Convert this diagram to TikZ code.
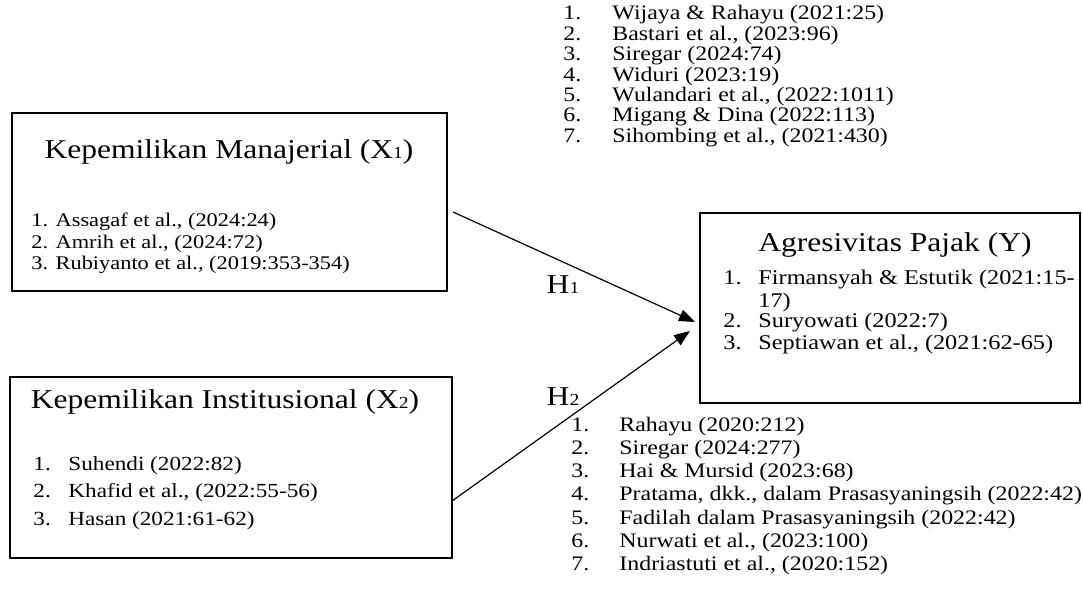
\documentclass[tikz,border=0pt]{standalone}
\usepackage{fontspec}
\setmainfont[FakeStretch=1.16]{Liberation Serif}
\usetikzlibrary{arrows.meta}

\newcommand{\indeks}[1]{\scalebox{0.62}{#1}}

\tikzset{
  kotak/.style={draw,line width=1pt,inner sep=0pt},
  judul/.style={inner sep=0pt,font=\fontsize{13.6}{16}\selectfont},
  butir/.style={anchor=west,inner sep=0pt,text height=0.72em,text depth=0.22em},
  panah/.style={line width=0.6pt,-{Triangle[length=8pt,width=6pt]}},
}

\begin{document}
\begin{tikzpicture}[x=0.5pt,y=-0.5pt]
  \useasboundingbox (0,0) rectangle (1083,615);

  % kotak variabel
  \node[kotak,minimum width=217.5pt,minimum height=89pt] (x1) at (229.5,202) {};
  \node[kotak,minimum width=221pt,minimum height=90.5pt] (x2) at (231,467.5) {};
  \node[kotak,minimum width=190pt,minimum height=95pt] (y) at (890,308) {};

  \node[judul] (jx1) at (229,152) {Kepemilikan Manajerial (X\indeks{1})};
  \node[judul] (jx2) at (225,402) {Kepemilikan Institusional (X\indeks{2})};
  \node[judul] (jy) at (895,245) {Agresivitas Pajak (Y)};

  % rujukan X1
  \begin{scope}[every node/.style={butir,font=\fontsize{9.65}{11}\selectfont}]
    \foreach \n/\teks in {1/{Assagaf et al., (2024:24)},
                          2/{Amrih et al., (2024:72)},
                          3/{Rubiyanto et al., (2019:353-354)}}
      {\node (rx1\n) at (31,{222+21.5*(\n-1)}) {\n. \teks};}
  \end{scope}

  % rujukan X2
  \begin{scope}[every node/.style={butir,font=\fontsize{10}{12}\selectfont}]
    \foreach \n/\teks in {1/{Suhendi (2022:82)},
                          2/{Khafid et al., (2022:55-56)},
                          3/{Hasan (2021:61-62)}}
      {\node (nx2\n) at (33,{465+27.5*(\n-1)}) {\n.};
       \node (rx2\n) at (68,{465+27.5*(\n-1)}) {\teks};}
  \end{scope}

  % rujukan Y
  \begin{scope}[every node/.style={butir,font=\fontsize{10.47}{12}\selectfont}]
    \node (ny1) at (723,280) {1.};
    \node (ry1) at (758,280) {Firmansyah \& Estutik (2021:15-};
    \node (ry1b) at (758,302) {17)};
    \node (ny2) at (723,323) {2.};
    \node (ry2) at (758,323) {Suryowati (2022:7)};
    \node (ny3) at (723,345) {3.};
    \node (ry3) at (758,345) {Septiawan et al., (2021:62-65)};
  \end{scope}

  % rujukan H1
  \begin{scope}[every node/.style={butir,font=\fontsize{10.3}{12}\selectfont}]
    \foreach \n/\teks in {1/{Wijaya \& Rahayu (2021:25)},
                          2/{Bastari et al., (2023:96)},
                          3/{Siregar (2024:74)},
                          4/{Widuri (2023:19)},
                          5/{Wulandari et al., (2022:1011)},
                          6/{Migang \& Dina (2022:113)},
                          7/{Sihombing et al., (2021:430)}}
      {\node (nh1\n) at (563,{15+20.4*(\n-1)}) {\n.};
       \node (rh1\n) at (612,{15+20.4*(\n-1)}) {\teks};}
  \end{scope}

  % rujukan H2
  \begin{scope}[every node/.style={butir,font=\fontsize{10.3}{12}\selectfont}]
    \foreach \n/\teks in {1/{Rahayu (2020:212)},
                          2/{Siregar (2024:277)},
                          3/{Hai \& Mursid (2023:68)},
                          4/{Pratama, dkk., dalam Prasasyaningsih (2022:42)},
                          5/{Fadilah dalam Prasasyaningsih (2022:42)},
                          6/{Nurwati et al., (2023:100)},
                          7/{Indriastuti et al., (2020:152)}}
      {\node (nh2\n) at (571,{426+23.3*(\n-1)}) {\n.};
       \node (rh2\n) at (619,{426+23.3*(\n-1)}) {\teks};}
  \end{scope}

  % hipotesis
  \node[judul] (h1) at (563,285) {H\indeks{1}};
  \node[judul] (h2) at (563,397) {H\indeks{2}};

  \coordinate (p1) at (453,212);
  \coordinate (q1) at (695,322);
  \coordinate (p2) at (452,501);
  \coordinate (q2) at (690,331);
  \draw[panah] (p1) -- (q1);
  \draw[panah] (p2) -- (q2);
\end{tikzpicture}
\end{document}
